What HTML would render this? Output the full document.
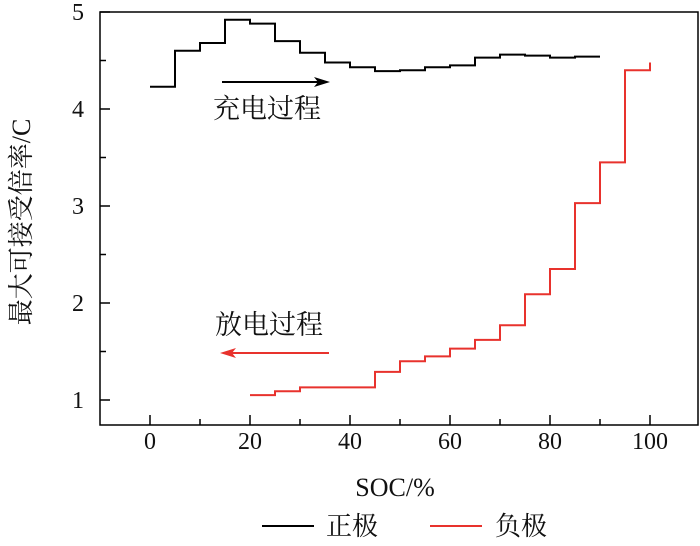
<!DOCTYPE html>
<html><head><meta charset="utf-8"><style>
body{margin:0;background:#fff}
svg text{font-family:"Liberation Serif","Noto Serif CJK SC",serif;fill:#111}
</style></head><body>
<svg width="700" height="541" viewBox="0 0 700 541" xmlns="http://www.w3.org/2000/svg">
<g id="axes"></g>
<g id="series"></g>
<g>
<line x1="222" y1="82" x2="318" y2="82" stroke="#000" stroke-width="2"/>
<polygon points="330,82 314,77 318,82 314,87" fill="#000"/>
<text x="213" y="118" font-size="27">充电过程</text>
</g>
<g>
<line x1="232" y1="353" x2="329" y2="353" stroke="#e8322d" stroke-width="2"/>
<polygon points="220,353 236,348 232,353 236,358" fill="#e8322d"/>
<text x="215" y="334" font-size="27">放电过程</text>
</g>
<text x="395" y="496" font-size="26" text-anchor="middle">SOC/%</text>
<text transform="translate(30,222) rotate(-90)" font-size="26" text-anchor="middle">最大可接受倍率/C</text>
<g>
<g>
<line x1="262" y1="526" x2="314" y2="526" stroke="#000" stroke-width="2"/>
<text x="326" y="535" font-size="26">正极</text></g>
<g>
<line x1="430" y1="526" x2="482" y2="526" stroke="#e8322d" stroke-width="2"/>
<text x="495" y="535" font-size="26">负极</text></g>
</g>
</svg>
<script>
const xTicks=[0,20,40,60,80,100];
const yTicks=[1,2,3,4,5];
const posSoc=[0,5,10,15,20,25,30,35,40,45,50,55,60,65,70,75,80,85,90];
const posRate=[4.23,4.60,4.68,4.92,4.88,4.70,4.58,4.48,4.43,4.39,4.40,4.43,4.45,4.53,4.56,4.55,4.53,4.54];
const negSoc=[20,25,30,35,40,45,50,55,60,65,70,75,80,85,90,95,100];
const negRate=[1.05,1.09,1.13,1.13,1.13,1.29,1.40,1.45,1.53,1.62,1.77,2.09,2.35,3.03,3.45,4.40];
const negEnd=4.48;
const X=v=>150+v*5, Y=v=>400-(v-1)*97;
const L=X(-10),R=698,T=Y(5),B=425;
const NS="http://www.w3.org/2000/svg";
function mk(p,t,a){const e=document.createElementNS(NS,t);for(const k in a)e.setAttribute(k,a[k]);p.appendChild(e);return e;}
const ax=document.getElementById('axes');
const frame=mk(ax,'rect',{x:L,y:T,width:R-L,height:B-T,fill:'none',stroke:'#000','stroke-width':1.5});


for(let v=0;v<=100;v+=10){const big=v%20==0;mk(ax,'line',{x1:X(v),x2:X(v),y1:B,y2:B-(big?10:6),stroke:'#000','stroke-width':1.5});}
xTicks.forEach(v=>{const t=mk(ax,'text',{x:X(v),y:B+24,'font-size':24,'text-anchor':'middle'});t.textContent=v;

});
for(let v=1;v<=5;v+=0.5){const big=v%1==0;mk(ax,'line',{x1:L,x2:L+(big?10:6),y1:Y(v),y2:Y(v),stroke:'#000','stroke-width':1.5});}
yTicks.forEach(v=>{const t=mk(ax,'text',{x:L-22,y:Y(v)+8,'font-size':24,'text-anchor':'middle'});t.textContent=v;

});
function step(xs,ys,end){let d='M'+X(xs[0])+','+Y(ys[0]);for(let i=0;i<ys.length;i++){if(i>0)d+='V'+Y(ys[i]);d+='H'+X(xs[i+1]);}if(end!==undefined)d+='V'+Y(end);return d;}
const s=document.getElementById('series');
const p1=mk(s,'path',{d:step(posSoc,posRate),fill:'none',stroke:'#000','stroke-width':2});


const p2=mk(s,'path',{d:step(negSoc,negRate,negEnd),fill:'none',stroke:'#e8322d','stroke-width':2});


</script>
</body></html>
